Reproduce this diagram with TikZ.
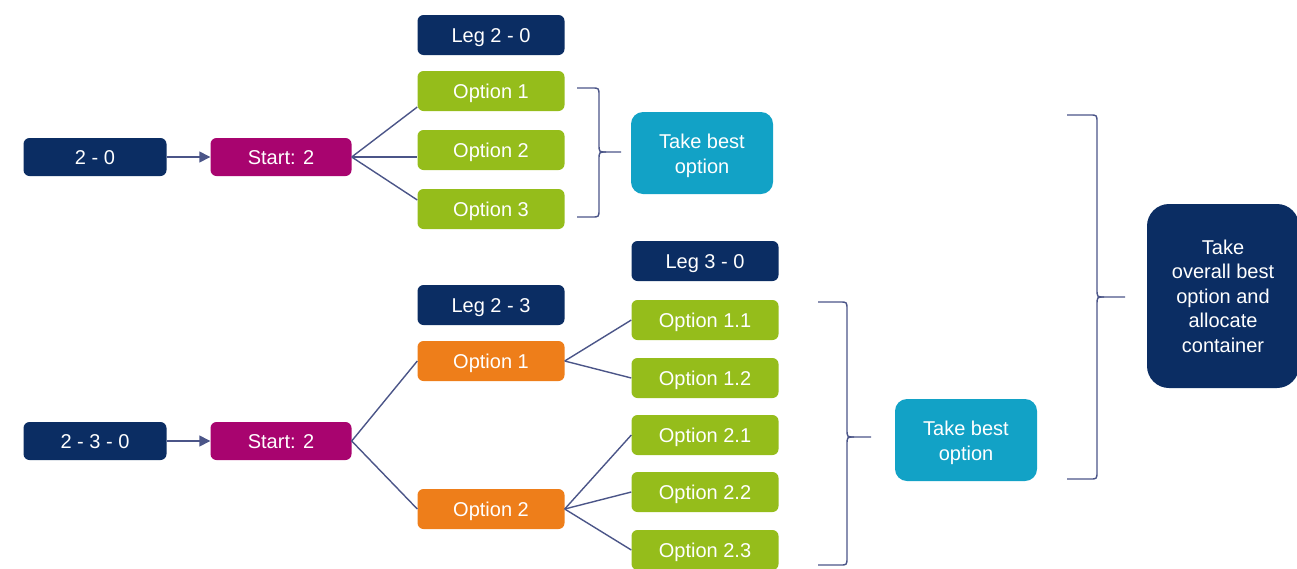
\documentclass[tikz,border=0pt]{standalone}
\usepackage{fontspec}
\setmainfont{Liberation Sans}
\usetikzlibrary{arrows.meta,positioning,calc}
\definecolor{navy}{HTML}{0B2D63}
\definecolor{magen}{HTML}{A8046F}
\definecolor{lgreen}{HTML}{95BD1B}
\definecolor{cyanb}{HTML}{12A2C6}
\definecolor{orng}{HTML}{EE7E1A}
\definecolor{linec}{HTML}{4B5588}
\newcommand{\drawbrc}[6]{% xl, xv, xt, yt, ym, yb
  \draw[brc] (#1,#4) -- (#2-7,#4) .. controls (#2,#4) .. (#2,#4+8) -- (#2,#5-8) .. controls (#2,#5) .. (#2+7,#5) -- (#3,#5);
  \draw[brc] (#1,#6) -- (#2-7,#6) .. controls (#2,#6) .. (#2,#6-8) -- (#2,#5+8) .. controls (#2,#5) .. (#2+7,#5);
}
\tikzset{
  box/.style={rectangle, rounded corners=6pt, text=white, inner sep=0pt, align=center,
    font=\fontsize{20}{24.5}\selectfont},
  one/.style={box, text height=15pt, text depth=0pt},
  navybox/.style={one, fill=navy, minimum width=143pt, minimum height=38pt},
  legbox/.style={one, fill=navy, minimum width=147pt, minimum height=40pt},
  startbox/.style={one, fill=magen, minimum width=141pt, minimum height=38pt},
  optbox/.style={one, fill=lgreen, minimum width=147pt, minimum height=40pt},
  orbox/.style={one, fill=orng, minimum width=147pt, minimum height=40pt},
  bestbox/.style={box, fill=cyanb, minimum width=142pt, minimum height=82pt, rounded corners=12pt},
  finalbox/.style={box, fill=navy, minimum width=152pt, minimum height=184pt, rounded corners=22pt},
  boxtext/.style={box, fill=none},
  conn/.style={draw=linec, line width=1.4pt},
  arr/.style={conn, -{Triangle[length=11pt,width=11pt]}},
  brc/.style={draw=linec, line width=1.4pt},
}
\begin{document}
\begin{tikzpicture}[x=1pt,y=-1pt]
\useasboundingbox (0,0) rectangle (1297,568);
% top part
\node[navybox] (a) at (95,157) {2 - 0};
\node[startbox] (sa) at (281,157) {Start: 2};
\node[legbox] (leg20) at (491,35) {Leg 2 - 0};
\node[optbox] (o1) at (491,91) {Option 1};
\node[optbox] (o2) at (491,150) {Option 2};
\node[optbox] (o3) at (491,209) {Option 3};
\node[bestbox] (best1) at (702,153) {};
\node[boxtext] (best1t) at (702,156) {Take best\\option};
% bottom part
\node[navybox] (b) at (95,441) {2 - 3 - 0};
\node[startbox] (sb) at (281,441) {Start: 2};
\node[legbox] (leg23) at (491,305) {Leg 2 - 3};
\node[orbox] (p1) at (491,361) {Option 1};
\node[orbox] (p2) at (491,509) {Option 2};
\node[legbox] (leg30) at (705,261) {Leg 3 - 0};
\node[optbox] (q11) at (705,320) {Option 1.1};
\node[optbox] (q12) at (705,378) {Option 1.2};
\node[optbox] (q21) at (705,435) {Option 2.1};
\node[optbox] (q22) at (705,492) {Option 2.2};
\node[optbox] (q23) at (705,550) {Option 2.3};
\node[bestbox] (best2) at (966,440) {};
\node[boxtext] (best2t) at (966,443) {Take best\\option};
\node[finalbox] (fin) at (1223,296) {Take\\overall best\\option and\\allocate\\container};
% connectors
\draw[arr] (a.east) -- (sa.west);
\draw[arr] (b.east) -- (sb.west);
\draw[conn] (sa.east) -- ([yshift=-16pt]o1.west);
\draw[conn] (sa.east) -- (sa.east -| o2.west);
\draw[conn] (sa.east) -- ([yshift=9pt]o3.west);
\draw[conn] (sb.east) -- (p1.west);
\draw[conn] (sb.east) -- (p2.west);
\draw[conn] (p1.east) -- (q11.west);
\draw[conn] (p1.east) -- (q12.west);
\draw[conn] (p2.east) -- (q21.west);
\draw[conn] (p2.east) -- (q22.west);
\draw[conn] (p2.east) -- (q23.west);
% braces
\drawbrc{577}{599}{621}{88}{152}{217}
\drawbrc{818}{847}{871}{302}{437}{565}
\drawbrc{1067}{1097}{1125}{115}{297}{479}
\end{tikzpicture}
\end{document}
